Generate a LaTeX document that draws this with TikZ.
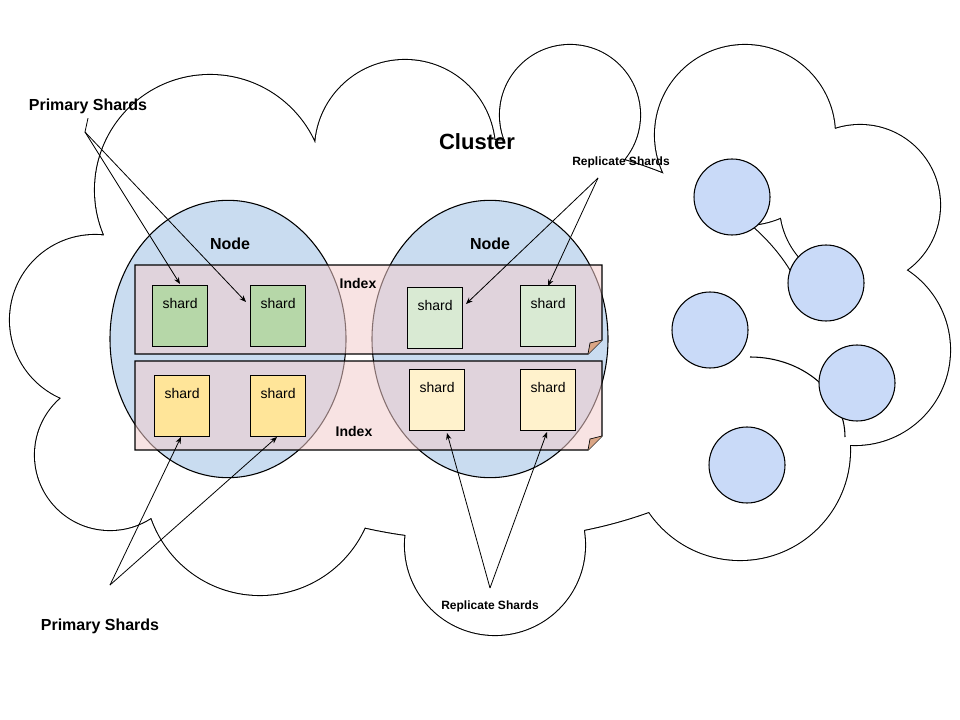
\documentclass[tikz,border=0pt]{standalone}
\usepackage{fontspec}
\setmainfont{Liberation Sans}
\usetikzlibrary{arrows.meta,shapes.geometric}
\begin{document}
\begin{tikzpicture}[x=0.75pt,y=-0.75pt,
 cl/.style={line width=1.6pt},
 shard/.style={draw,line width=0.8pt,minimum width=41.25pt,minimum height=45.75pt,anchor=north west,inner sep=0pt,align=center,font=\fontsize{10.5}{12}\selectfont},
 lab/.style={font=\bfseries\fontsize{12}{14}\selectfont},
 arr/.style={-{Stealth[length=5pt,width=4pt]},line width=0.6pt},
 ln/.style={line width=0.6pt}]
\definecolor{nodeb}{HTML}{C9DCF0}
\definecolor{idx}{HTML}{F4CCCC}
\definecolor{g1}{HTML}{B6D7A8}
\definecolor{g2}{HTML}{D9EAD3}
\definecolor{y1}{HTML}{FFE599}
\definecolor{y2}{HTML}{FFF2CC}
\definecolor{sb}{HTML}{C9DAF8}
\useasboundingbox (0,0) rectangle (960,720);
% cloud
\def\cloudcircles{
 (210,190) circle (115)
 (405,150) circle (90)
 (570,115) circle (70)
 (745,135) circle (90)
 (860,205) circle (80)
 (855,350) circle (95)
 (740,450) circle (110)
 (495,545) circle (90)
 (260,480) circle (115)
 (110,455) circle (75)
 (95,320) circle (85)
 (480,340) ellipse (330 and 200)}
\draw[cl] \cloudcircles;
\fill[white] \cloudcircles;
\draw[line width=0.8pt] (750,357) arc (-90:0:95 and 80) coordinate (cend);
% small circles
\foreach \p/\n in {{(732,197)}/s1,{(826,283)}/s2,{(710,330)}/s3,{(857,383)}/s4,{(747,465)}/s5}
  \node[circle,draw,line width=0.8pt,fill=sb,minimum size=57pt,inner sep=0pt] (\n) at \p {};
% nodes
\node[ellipse,draw,fill=nodeb,line width=0.8pt,minimum width=177pt,minimum height=208pt,inner sep=0pt] (n1) at (228,339) {};
\node[ellipse,draw,fill=nodeb,line width=0.8pt,minimum width=177pt,minimum height=208pt,inner sep=0pt] (n2) at (490,339) {};
\node[lab] (nl1) at (230,244) {Node};
\node[lab] (nl2) at (490,244) {Node};
% index rectangles
\foreach \y/\n in {265/i1,361/i2}{
 \fill[idx,fill opacity=0.55] (135,\y) -- (602,\y) -- (602,\y+75) -- (588,\y+89) -- (135,\y+89) -- cycle;
 \draw[line width=0.8pt] (135,\y) -- (602,\y) -- (602,\y+75) -- (588,\y+89) -- (135,\y+89) -- cycle;
 \fill[brown!50!idx] (602,\y+75) -- (590,\y+78) -- (588,\y+89) -- cycle;
 \draw[line width=0.5pt] (602,\y+75) -- (590,\y+78) -- (588,\y+89);
 \coordinate (\n) at (135,\y);
}
\node[font=\bfseries\fontsize{10.5}{12}\selectfont] (ix1) at (358,283) {Index};
\node[font=\bfseries\fontsize{10.5}{12}\selectfont] (ix2) at (354,431) {Index};
% shards
\node[shard,fill=g1] (a1) at (152,285) {};
\node[shard,fill=g1] (a2) at (250,285) {};
\node[shard,fill=g2] (a3) at (407,287) {};
\node[shard,fill=g2] (a4) at (520,285) {};
\node[shard,fill=y1] (b1) at (154,375) {};
\node[shard,fill=y1] (b2) at (250,375) {};
\node[shard,fill=y2] (b3) at (409,369) {};
\node[shard,fill=y2] (b4) at (520,369) {};
\foreach \n in {a1,a2,a3,a4,b1,b2,b3,b4}
  \node[font=\fontsize{10.5}{12}\selectfont] at ([yshift=-13.5pt]\n.north) {shard};
% labels
\node[font=\bfseries\fontsize{16.5}{18}\selectfont] (cl) at (477,142) {Cluster};
\node[lab] (p1) at (88,106) {Primary Shards};
\node[lab] (p2) at (100,626) {Primary Shards};
\node[font=\bfseries\fontsize{9}{11}\selectfont] (r1) at (621,162) {Replicate Shards};
\node[font=\bfseries\fontsize{9}{11}\selectfont] (r2) at (490,606) {Replicate Shards};
\coordinate (pj1) at (85,132);
\coordinate (pj2) at (110,585);
\coordinate (rj1) at (598,178);
\coordinate (rj2) at (490,588);
\draw[ln] (p1.south) -- (pj1);
\draw[arr] (pj1) -- (180,284);
\draw[arr] (pj1) -- (246,302);
\draw[arr] (pj2) -- (181,437);
\draw[arr] (pj2) -- (277,437);
\draw[arr] (rj1) -- (466,304);
\draw[arr] (rj1) -- (548,286);
\draw[arr] (rj2) -- (447,433);
\draw[arr] (rj2) -- (547,432);
\end{tikzpicture}
\end{document}
